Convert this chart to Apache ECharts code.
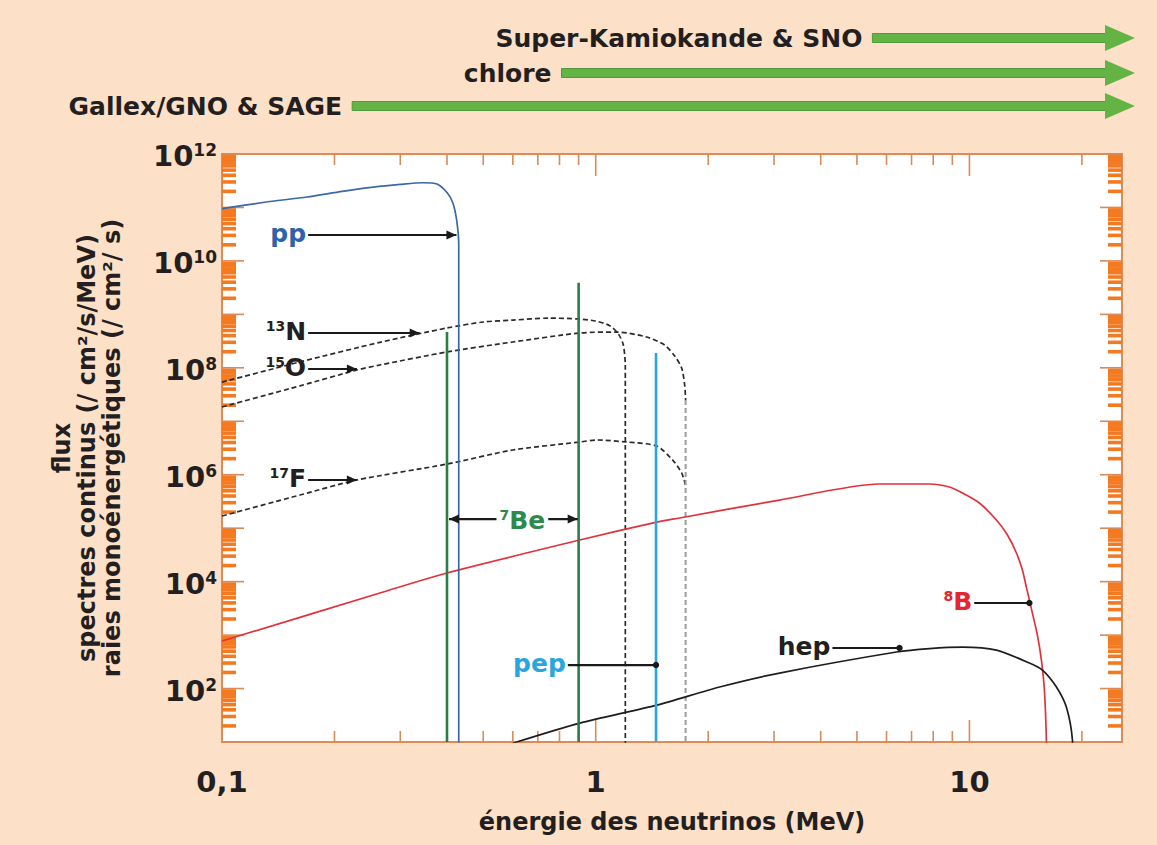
<!DOCTYPE html>
<html lang="fr">
<head>
<meta charset="utf-8">
<title>Spectre des neutrinos solaires</title>
<script src="https://cdn.jsdelivr.net/npm/echarts@6/dist/echarts.min.js"></script>
<style>
  html, body { margin: 0; padding: 0; background: #fde0c8; }
  #chart { width: 1157px; height: 845px; }
</style>
</head>
<body>
<div id="chart"></div>
<script>
// ---- axis ranges (log–log) ----
const ENERGY_MIN = 0.1, ENERGY_MAX = 25.6;   // MeV
const FLUX_MIN = 10, FLUX_MAX = 1e12;

// ---- continuous spectra: energy (MeV) / flux (/cm²/s/MeV) ----
const ppEnergy  = [0.1, 0.13, 0.169, 0.21, 0.254, 0.30, 0.345, 0.376, 0.40, 0.415, 0.425, 0.43, 0.43];
const ppFlux    = [9.5e10, 1.25e11, 1.57e11, 2.0e11, 2.4e11, 2.7e11, 2.9e11, 2.75e11, 1.9e11, 1.2e11, 5.5e10, 2e10, 1];

const n13Energy = [0.1, 0.1617, 0.2646, 0.3996, 0.5, 0.6, 0.75, 0.9, 1.0, 1.09, 1.15, 1.185, 1.2, 1.2];
const n13Flux   = [5.4e7, 1.29e8, 3.0e8, 5.55e8, 7.2e8, 7.8e8, 8.5e8, 8.2e8, 7.5e8, 6.15e8, 4.3e8, 2.7e8, 1.1e8, 1];

const o15Energy = [0.1, 0.1617, 0.2296, 0.2646, 0.3996, 0.6, 0.906, 1.138, 1.369, 1.529, 1.627, 1.698, 1.73, 1.74];
const o15Flux   = [1.85e7, 4.6e7, 9.1e7, 1.13e8, 1.98e8, 3.04e8, 4.48e8, 4.67e8, 3.77e8, 2.67e8, 1.66e8, 9.9e7, 4.8e7, 2.5e7];

const f17Energy = [0.1, 0.1617, 0.2296, 0.3996, 0.6, 0.906, 1.006, 1.21, 1.456, 1.607, 1.698, 1.74];
const f17Flux   = [1.69e5, 4.17e5, 7.96e5, 1.58e6, 2.9e6, 4.09e6, 4.46e6, 4.09e6, 3.44e6, 1.88e6, 1.08e6, 6.3e5];

const b8Energy  = [0.1, 0.2646, 0.3996, 0.906, 1.456, 1.677, 3.104, 5.746, 7.816, 8.84, 9.58, 10.63, 11.81, 12.64, 13.36, 13.86, 14.2, 14.74, 15.2, 15.58, 15.87, 16.07, 16.1];
const b8Flux    = [774, 6.12e3, 1.45e4, 6.0e4, 1.3e5, 1.55e5, 3.36e5, 6.7e5, 6.7e5, 5.9e5, 4.55e5, 2.96e5, 1.42e5, 7.45e4, 3.43e4, 1.65e4, 7.9e3, 2.58e3, 1.0e3, 341, 94, 10, 1];

const hepEnergy = [0.6, 0.906, 1.456, 2.146, 3.104, 6.38, 7.82, 9.58, 11.81, 14.47, 15.68, 17.09, 18.17, 18.86, 19.0];
const hepFlux   = [9.5, 22.6, 49, 107, 195, 482, 560, 597, 525, 300, 222, 107, 45, 11, 1];

// common cut-off of the 15O and 17F spectra
const cutoffEnergy = 1.74;
const cutoffTopFlux = 2.5e7;

// ---- monoenergetic lines: energy (MeV) / flux (/cm²/s) ----
const be7Energy = [0.40, 0.90];
const be7Flux   = [4.7e8, 3.9e9];
const pepEnergy = [1.45];
const pepFlux   = [1.9e8];

// ---- detector thresholds (MeV) ----
const detectorNames      = ['Super-Kamiokande & SNO', 'chlore', 'Gallex/GNO & SAGE'];
const detectorThresholds = [5.5, 0.81, 0.223];

// ---- tick labels ----
const xTickValues = [0.1, 1, 10];
const xTickText   = ['0,1', '1', '10'];
const yTickExponents = [2, 4, 6, 8, 10, 12];

// ---- annotation anchors: [label energy, flux level, arrow-tip energy] ----
const annotationNames   = ['pp', '13N', '15O', '17F', '7Be', 'pep', 'hep', '8B'];
const annotationAnchors = [
  [0.170, 3.05e10, 0.424],
  [0.170, 4.48e8, 0.338],
  [0.170, 9.5e7, 0.2296],
  [0.170, 7.96e5, 0.2296],
  [0.405, 1.48e5, 0.895],
  [0.842, 275, 1.45],
  [4.30, 573, 6.5],
  [10.3, 3.98e3, 14.47]
];

// ---- styling ----
const FONT = '"DejaVu Sans", "Liberation Sans", sans-serif';
const TEXT = '#231f20';
const FRAME = '#e08b55';
const TICK_Y = '#f47a22';
const TICK_X = '#d98a58';
const GREEN_ARROW = '#63b345';
const COLORS = {
  pp: '#3b68a6', b8: '#e1323b', hep: '#1d1d1d', cno: '#2a2a2a',
  be7: '#2c7c47', pep: '#27a7df', cutoff: '#9b9b9b'
};
const annotationStyle = {
  pp:  { color: '#2f63a8', tip: 'arrow' },
  '13N': { color: TEXT, tip: 'arrow', rich: '{s|13}{b|N}' },
  '15O': { color: TEXT, tip: 'arrow', rich: '{s|15}{b|O}' },
  '17F': { color: TEXT, tip: 'arrow', rich: '{s|17}{b|F}' },
  '7Be': { color: '#2e8a4c', tip: 'both', rich: '{s|7}{b|Be}' },
  pep: { color: '#2aa6de', tip: 'dot' },
  hep: { color: TEXT, tip: 'dot' },
  '8B': { color: '#e3262f', tip: 'dot', rich: '{s|8}{b|B}' }
};

const zip = (xs, ys) => xs.map((x, i) => [x, ys[i]]);

// tick positions: decades and 2..9 subdivisions
const yTicks = [];
for (let d = 1; d <= 12; d++) {
  yTicks.push([ENERGY_MIN, Math.pow(10, d), 3]);
  if (d < 12) for (let k = 2; k <= 9; k++) yTicks.push([ENERGY_MIN, k * Math.pow(10, d), 2]);
}
const xTicks = [];
for (let d = -1; d <= 1; d++) {
  for (let k = 1; k <= 9; k++) {
    const v = k * Math.pow(10, d);
    if (v <= ENERGY_MIN || v >= ENERGY_MAX) continue;
    xTicks.push([v, FLUX_MIN, k === 1 ? 1 : 0]);
  }
}

function richFor(color, big, small) {
  return {
    b: { fontFamily: FONT, fontWeight: 'bold', fontSize: big, fill: color },
    s: { fontFamily: FONT, fontWeight: 'bold', fontSize: small, fill: color, verticalAlign: 'top' }
  };
}

function renderTick(params, api) {
  const cs = params.coordSys;
  const kind = api.value(2);
  const c = api.coord([api.value(0), api.value(1)]);
  const L = cs.x, R = cs.x + cs.width, T = cs.y, B = cs.y + cs.height;
  if (kind < 2) {
    const len = kind === 1 ? 22 : 11;
    const st = { stroke: TICK_X, lineWidth: 1.6 };
    return { type: 'group', children: [
      { type: 'line', shape: { x1: c[0], y1: B, x2: c[0], y2: B - len }, style: st },
      { type: 'line', shape: { x1: c[0], y1: T, x2: c[0], y2: T + len }, style: st }
    ]};
  }
  if (kind === 3) {
    const st = { stroke: TICK_X, lineWidth: 1.6 };
    return { type: 'group', children: [
      { type: 'line', shape: { x1: L, y1: c[1], x2: L + 22, y2: c[1] }, style: st },
      { type: 'line', shape: { x1: R, y1: c[1], x2: R - 22, y2: c[1] }, style: st }
    ]};
  }
  const st = { stroke: TICK_Y, lineWidth: 3.6 };
  return { type: 'group', children: [
    { type: 'line', shape: { x1: L, y1: c[1], x2: L + 14, y2: c[1] }, style: st },
    { type: 'line', shape: { x1: R, y1: c[1], x2: R - 14, y2: c[1] }, style: st }
  ]};
}

function renderTickLabel(params, api) {
  const cs = params.coordSys;
  const i = params.dataIndex;
  const c = api.coord([api.value(0), api.value(1)]);
  if (api.value(2) === 0) {
    return { type: 'text', x: c[0], y: cs.y + cs.height + 40, style: {
      text: xTickText[i], fill: TEXT, font: 'bold 29px ' + FONT, align: 'center', verticalAlign: 'middle' } };
  }
  const e = yTickExponents[i - xTickValues.length];
  return { type: 'text', x: cs.x - 5, y: c[1] + 2, style: {
    text: '{b|10}{s|' + e + '}', align: 'right', verticalAlign: 'middle', rich: richFor(TEXT, 29, 17) } };
}

function renderAnnotation(params, api) {
  const name = annotationNames[params.dataIndex];
  const st = annotationStyle[name];
  const p1 = api.coord([api.value(0), api.value(1)]);
  const p2 = api.coord([api.value(2), api.value(1)]);
  const y = p1[1];
  const lineSt = { stroke: '#1a1a1a', lineWidth: 2.2 };
  const kids = [];
  const head = (x, dir) => ({ type: 'polygon', shape: { points: [[x, y], [x - dir * 10, y - 4.5], [x - dir * 10, y + 4.5]] }, style: { fill: '#1a1a1a' } });
  const label = st.rich || ('{b|' + name + '}');
  if (st.tip === 'both') {
    const mid = (p1[0] + p2[0]) / 2 + 9;
    kids.push({ type: 'line', shape: { x1: p1[0], y1: y, x2: p2[0], y2: y }, style: lineSt });
    kids.push(head(p1[0], -1), head(p2[0], 1));
    kids.push({ type: 'text', x: mid, y: y + 1, style: { text: label, align: 'center', verticalAlign: 'middle',
      backgroundColor: '#ffffff', padding: [0, 3, 0, 3], rich: richFor(st.color, 25, 14) } });
  } else {
    kids.push({ type: 'line', shape: { x1: p1[0], y1: y, x2: p2[0], y2: y }, style: lineSt });
    if (st.tip === 'arrow') kids.push(head(p2[0], 1));
    else kids.push({ type: 'circle', shape: { cx: p2[0], cy: y, r: 3.2 }, style: { fill: '#1a1a1a' } });
    kids.push({ type: 'text', x: p1[0] - 2, y: y - 2, style: { text: label, align: 'right', verticalAlign: 'middle',
      rich: richFor(st.color, 25, 14) } });
  }
  return { type: 'group', children: kids };
}

const DETECTOR_ROW_OFFSET = [116, 81, 48];
function renderDetector(params, api) {
  const cs = params.coordSys;
  const i = params.dataIndex;
  const x0 = api.coord([api.value(0), FLUX_MAX])[0];
  const y = cs.y - DETECTOR_ROW_OFFSET[i];
  const xEnd = cs.x + cs.width + 13;
  return { type: 'group', children: [
    { type: 'rect', shape: { x: x0, y: y - 4.5, width: xEnd - 28 - x0, height: 9 },
      style: { fill: GREEN_ARROW, stroke: '#4f9a3a', lineWidth: 1 } },
    { type: 'polygon', shape: { points: [[xEnd - 30, y - 13], [xEnd, y], [xEnd - 30, y + 13]] },
      style: { fill: GREEN_ARROW } },
    { type: 'text', x: x0 - 10, y: y, style: { text: detectorNames[i], fill: TEXT,
      font: 'bold 25px ' + FONT, align: 'right', verticalAlign: 'middle' } }
  ]};
}

const chart = echarts.init(document.getElementById('chart'), null, { renderer: 'svg' });

const curve = (name, xs, ys, color, dashed, z) => ({
  name, type: 'line', data: zip(xs, ys), showSymbol: false, symbol: 'none', smooth: 0.25, clip: true, z,
  lineStyle: { color, width: 1.7, type: dashed ? [5, 3] : 'solid' }, silent: true
});
const vline = (name, e, top, color, width, dashed, z) => ({
  name, type: 'line', data: [[e, top], [e, FLUX_MIN]], showSymbol: false, symbol: 'none', clip: true, z,
  lineStyle: { color, width, type: dashed ? [5, 3] : 'solid' }, silent: true
});

chart.setOption({
  animation: false,
  backgroundColor: '#fde0c8',
  grid: { left: 222, top: 154, right: 35, bottom: 103, show: true, backgroundColor: '#ffffff', borderColor: FRAME, borderWidth: 2 },
  xAxis: {
    type: 'log', logBase: 10, min: ENERGY_MIN, max: ENERGY_MAX,
    axisLine: { show: false }, axisTick: { show: false }, axisLabel: { show: false }, splitLine: { show: false },
    name: 'énergie des neutrinos (MeV)', nameLocation: 'middle', nameGap: 68,
    nameTextStyle: { color: TEXT, fontFamily: FONT, fontWeight: 'bold', fontSize: 24 }
  },
  yAxis: {
    type: 'log', logBase: 10, min: FLUX_MIN, max: FLUX_MAX,
    axisLine: { show: false }, axisTick: { show: false }, axisLabel: { show: false }, splitLine: { show: false },
    name: 'flux\nspectres continus (/ cm²/s/MeV)\nraies monoénergétiques (/ cm²/ s)',
    nameLocation: 'middle', nameRotate: 90, nameGap: 98,
    nameTextStyle: { color: TEXT, fontFamily: FONT, fontWeight: 'bold', fontSize: 24, lineHeight: 25, align: 'center' }
  },
  series: [
    { name: 'ticks', type: 'custom', renderItem: renderTick, data: xTicks.concat(yTicks), z: 1, silent: true },
    curve('17F', f17Energy, f17Flux, COLORS.cno, true, 2),
    curve('15O', o15Energy, o15Flux, COLORS.cno, true, 2),
    curve('13N', n13Energy, n13Flux, COLORS.cno, true, 2),
    vline('15O/17F cut-off', cutoffEnergy, cutoffTopFlux, COLORS.cutoff, 2, true, 2),
    curve('8B', b8Energy, b8Flux, COLORS.b8, false, 3),
    curve('hep', hepEnergy, hepFlux, COLORS.hep, false, 3),
    vline('7Be 0.38', be7Energy[0], be7Flux[0], COLORS.be7, 2.6, false, 4),
    vline('7Be 0.86', be7Energy[1], be7Flux[1], COLORS.be7, 2.6, false, 4),
    vline('pep', pepEnergy[0], pepFlux[0], COLORS.pep, 2.6, false, 4),
    curve('pp', ppEnergy, ppFlux, COLORS.pp, false, 4),
    { name: 'tick labels', type: 'custom', renderItem: renderTickLabel, clip: false, z: 5, silent: true,
      data: xTickValues.map(v => [v, FLUX_MIN, 0]).concat(yTickExponents.map(e => [ENERGY_MIN, Math.pow(10, e), 1])) },
    { name: 'annotations', type: 'custom', renderItem: renderAnnotation, clip: false, z: 6, silent: true,
      data: annotationAnchors },
    { name: 'detectors', type: 'custom', renderItem: renderDetector, clip: false, z: 6, silent: true,
      data: detectorThresholds.map(t => [t, FLUX_MAX]) }
  ]
});
</script>
</body>
</html>
